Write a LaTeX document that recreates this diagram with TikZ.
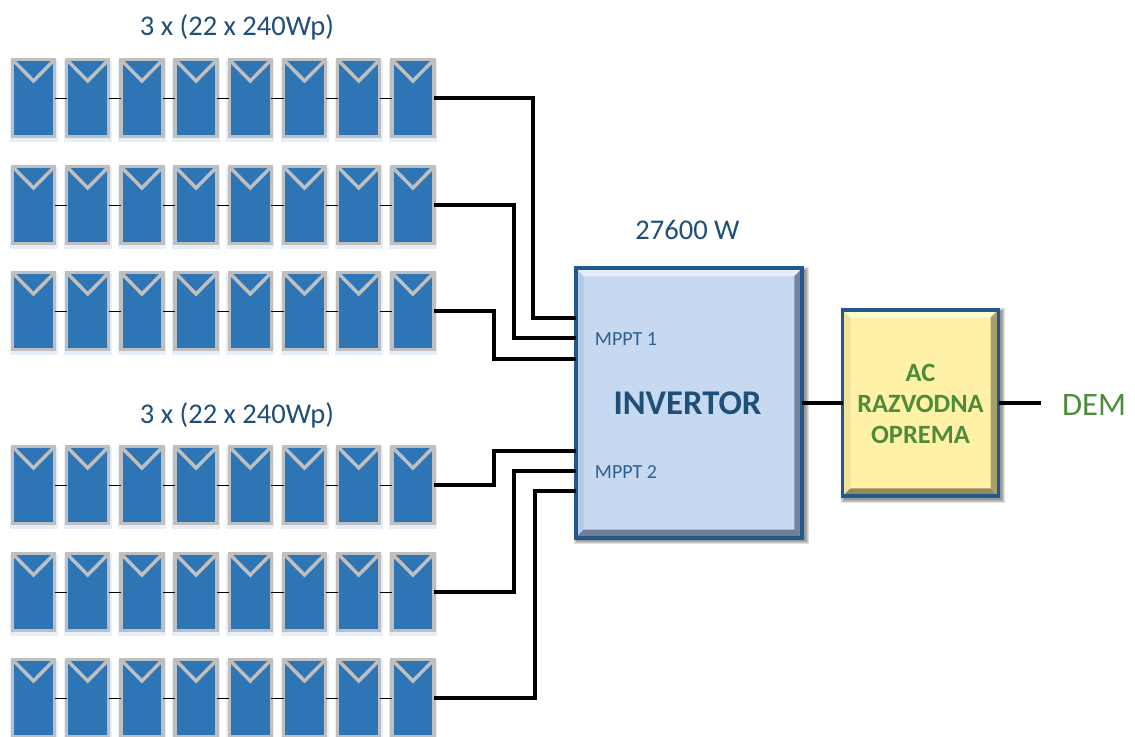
\documentclass[tikz,border=0pt]{standalone}
\usepackage{fontspec}
\setmainfont{Carlito}
\usetikzlibrary{calc}
\definecolor{panelblue}{HTML}{2E75B6}
\definecolor{panelframe}{HTML}{BFBFBF}
\definecolor{glowblue}{HTML}{E6EFF9}
\definecolor{boxedge}{HTML}{24578A}
\definecolor{invfill}{HTML}{C6D9F1}
\definecolor{invtop}{HTML}{E3EEFA}
\definecolor{invleft}{HTML}{B4CBE8}
\definecolor{invright}{HTML}{74849A}
\definecolor{invbottom}{HTML}{6F7F96}
\definecolor{acfill}{HTML}{FFF2A6}
\definecolor{actop}{HTML}{FFF9D0}
\definecolor{acleft}{HTML}{EFE29A}
\definecolor{acright}{HTML}{A89F6C}
\definecolor{acbottom}{HTML}{94895A}
\definecolor{titleblue}{HTML}{1F4E79}
\definecolor{mpptblue}{HTML}{2F5F8F}
\definecolor{acgreen}{HTML}{4E8B3A}
\newcommand{\pxfont}[1]{\fontsize{#1}{#1}\selectfont}
\tikzset{
  x=0.75pt,y=-0.75pt,
  panel/.style={draw=panelframe,line width=2.5pt,fill=panelblue,minimum width=31.5pt,minimum height=57.5pt,inner sep=0pt,outer sep=0pt,
    path picture={\draw[panelframe,line width=2.6pt]
      (path picture bounding box.north west) -- ($(path picture bounding box.north)+(0,-16pt)$) -- (path picture bounding box.north east);}},
  wire/.style={draw=black,line width=2.5pt,line join=miter},
  link/.style={draw=black,line width=0.5pt},
  bigbox/.style={draw=boxedge,line width=2.8pt,inner sep=0pt,outer sep=0pt},
  titletext/.style={text=titleblue,font=\pxfont{21.4}},
}
\newcommand{\softshadow}[4]{% x1,y1,x2,y2
  \foreach \g in {0,1,2,3}{
    \fill[black,opacity=0.12] (#1+3-\g,#2+3-\g) rectangle (#3+\g,#4+\g);
  }
}
\newcommand{\bevel}[6]{% node, top, left, right, bottom, width
  \fill[#2] (#1.north west) -- (#1.north east) -- ($(#1.north east)+(-#6,-#6)$) -- ($(#1.north west)+(#6,-#6)$) -- cycle;
  \fill[#3] (#1.north west) -- (#1.south west) -- ($(#1.south west)+(#6,#6)$) -- ($(#1.north west)+(#6,-#6)$) -- cycle;
  \fill[#4] (#1.north east) -- (#1.south east) -- ($(#1.south east)+(-#6,#6)$) -- ($(#1.north east)+(-#6,-#6)$) -- cycle;
  \fill[#5] (#1.south west) -- (#1.south east) -- ($(#1.south east)+(-#6,#6)$) -- ($(#1.south west)+(#6,#6)$) -- cycle;
  \draw[boxedge,line width=2.8pt] (#1.north west) rectangle (#1.south east);
}
\begin{document}
\begin{tikzpicture}
\useasboundingbox (0,0) rectangle (1135,737);
\clip (0,0) rectangle (1135,737);
% panels
\foreach \r/\yy in {1/98,2/205,3/311,4/485,5/592,6/698}{
  \foreach \c in {1,...,8}{
    \pgfmathsetmacro{\xx}{33.5+54.2*(\c-1)}
    \fill[glowblue] (\xx-24,\yy-38) rectangle (\xx+24,\yy+44);
    \node[panel] (p\r-\c) at (\xx,\yy) {};
  }
  \foreach \c [evaluate=\c as \d using int(\c+1)] in {1,...,7}{
    \draw[link] (p\r-\c.east) -- (p\r-\d.west);
  }
}
% boxes
\softshadow{574}{267}{806}{541}
\softshadow{841}{308}{1002}{500}
\node[bigbox,fill=invfill,minimum width=170pt,minimum height=202pt] (inv) at (689,403) {};
\bevel{inv}{invtop}{invleft}{invright}{invbottom}{6pt}
\node[bigbox,fill=acfill,minimum width=117pt,minimum height=140pt] (ac) at (920.5,403) {};
\bevel{ac}{actop}{acleft}{acright}{acbottom}{6pt}
% texts
\node[titletext] (t1) at (237,27) {3 x (22 x 240Wp)};
\node[titletext] (t2) at (237,415.5) {3 x (22 x 240Wp)};
\node[titletext] (t3) at (687.5,230) {27600 W};
\node[text=mpptblue,font=\pxfont{15}] (m1) at (626,339) {MPPT 1};
\node[text=mpptblue,font=\pxfont{15}] (m2) at (626,472) {MPPT 2};
\node[text=titleblue,font=\pxfont{26}\bfseries] (invt) at (687.5,403) {INVERTOR};
\node[text=acgreen,font=\pxfont{19.8}\bfseries,align=center,text depth=0pt] (act) at (920.5,403.5) {AC\\[3.5pt]RAZVODNA\\[3.5pt]OPREMA};
\node[text=acgreen,font=\pxfont{24.5}] (dem) at (1094,405) {DEM};
% wires
\coordinate (j1) at (533,318); \coordinate (i1) at (inv.west |- j1);
\coordinate (j2) at (514,338); \coordinate (i2) at (inv.west |- j2);
\coordinate (j3) at (494,359); \coordinate (i3) at (inv.west |- j3);
\coordinate (j4) at (494,451); \coordinate (i4) at (inv.west |- j4);
\coordinate (j5) at (514,471); \coordinate (i5) at (inv.west |- j5);
\coordinate (j6) at (535,491); \coordinate (i6) at (inv.west |- j6);
\foreach \r in {1,...,6}{
  \draw[wire] (p\r-8.east) -| (j\r) -- (i\r);
}
\draw[wire] (inv.east) -- (ac.west);
\coordinate (demend) at (1041,403);
\draw[wire] (ac.east) -- (demend);
\end{tikzpicture}
\end{document}
